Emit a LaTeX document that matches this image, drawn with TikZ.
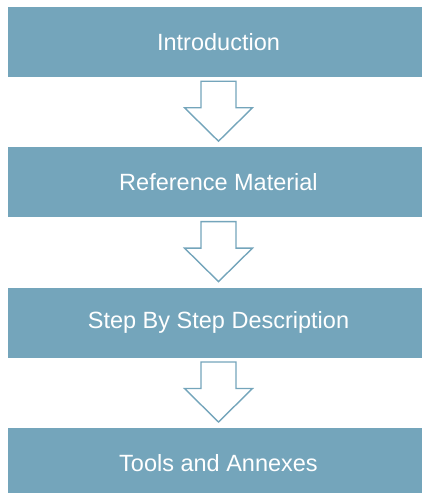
\documentclass[tikz,border=0pt]{standalone}
\usepackage{fontspec}
\setmainfont{Liberation Sans}
\usetikzlibrary{positioning}

\definecolor{stageblue}{HTML}{74A5BB}

\tikzset{
    stage/.style={rectangle, fill=stageblue, text=white, minimum width=421pt, minimum height=70pt, inner sep=0pt, font=\fontsize{23.5}{28}\selectfont},
    blockarrow/.style={draw=stageblue, line width=1.4pt, fill=white, line join=miter}
}

\begin{document}
\begin{tikzpicture}[x=1pt, y=1pt, node distance=70pt]

        \useasboundingbox (0,0) rectangle (421,-493);

        % introduction
        \node[stage] (intro) at (218.5,-42) {Introduction};

        % reference material
        \node[stage] (refmat) [below = of intro] {Reference Material};

        % step by step
        \node[stage] (steps) [below = of refmat] {Step By Step Description};

        % tools
        \node[stage] (tools) [below = of steps] {Tools and Annexes};

        % arrows
        \foreach \from in {intro, refmat, steps}
            \draw[blockarrow, shift={(\from.south)}] (-17.5,-4) -- (17.5,-4) -- (17.5,-30.5) -- (34,-30.5) -- (0,-64) -- (-34,-30.5) -- (-17.5,-30.5) -- cycle;

    \end{tikzpicture}
\end{document}
